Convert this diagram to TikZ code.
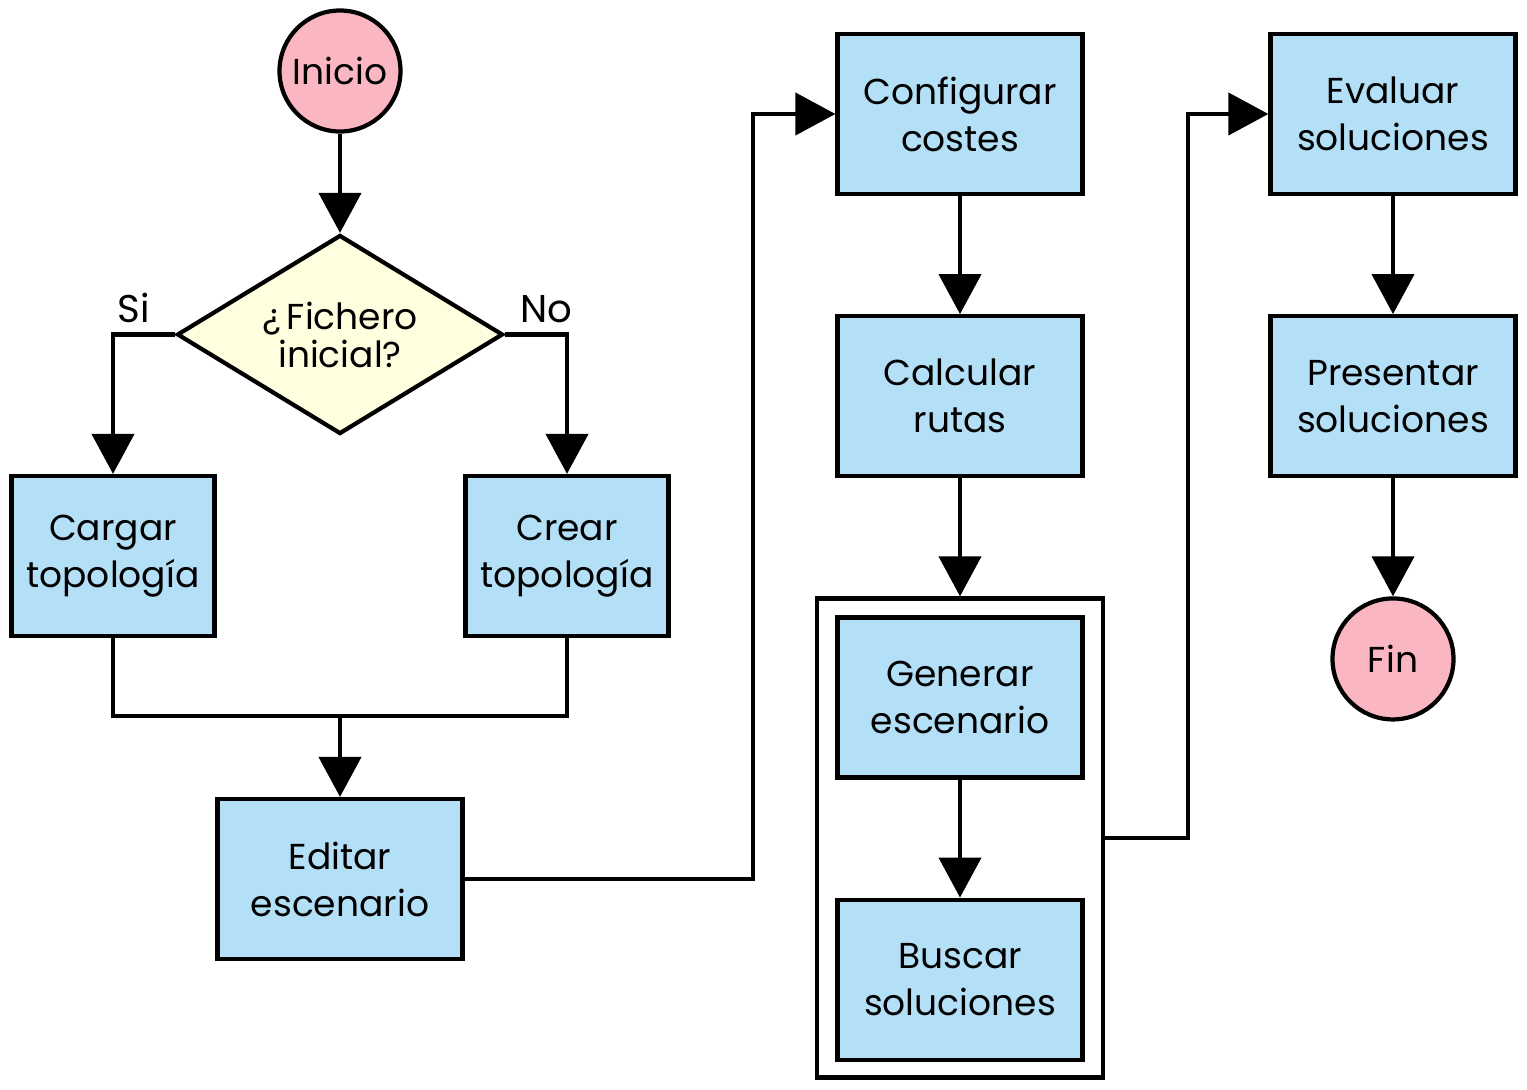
\documentclass[tikz,border=0pt]{standalone}
\usepackage{fontspec}
\setmainfont{Poppins}
\usepackage{tikz}
\usetikzlibrary{shapes.geometric, arrows.meta, positioning, calc}
\usepackage{xcolor}
\definecolor{azul}{RGB}{179,224,247}
\definecolor{rosa}{RGB}{250,182,193}
\definecolor{crema}{RGB}{255,255,224}
\tikzstyle{proceso} = [rectangle, minimum width=4.9cm, minimum height=3.2cm, align=center, draw=black, fill=azul, line width=2.4pt, font=\fontsize{20.5}{26.7}\selectfont]
\tikzstyle{terminal} = [circle, minimum size=2.42cm, inner sep=0pt, draw=black, fill=rosa, line width=2.4pt, font=\fontsize{20.5}{26.7}\selectfont]
\tikzstyle{decision} = [diamond, aspect=1.65, inner sep=0pt, minimum width=6.52cm, minimum height=3.98cm, align=center, draw=black, fill=crema, line width=2.4pt, font=\fontsize{20.5}{21.6}\selectfont]
\tikzstyle{etiqueta} = [above=2pt, font=\fontsize{22}{24}\selectfont]
\tikzstyle{linea} = [line width=2.4pt]
\tikzstyle{flecha} = [line width=2.4pt, -{Triangle[length=0.8cm, width=0.84cm]}]

\begin{document}
\begin{tikzpicture}[node distance=2.36cm]
    \useasboundingbox (0,0) rectangle (30.54,-21.8);

    % columna izquierda
    \node (ini) [terminal] at (6.8,-1.42) {Inicio};
    \node (dec) [decision] at (6.8,-6.69) {¿\,Fichero\\inicial?};
    \node (car) [proceso, minimum width=4.06cm] at (2.26,-11.12) {Cargar\\topología};
    \node (cre) [proceso, minimum width=4.06cm] at (11.34,-11.12) {Crear\\topología};
    \node (edi) [proceso] at (6.8,-17.58) {Editar\\escenario};
    \coordinate (junta) at (6.8,-14.32);

    % columna central
    \node (con) [proceso] at (19.2,-2.28) {Configurar\\costes};
    \node (cal) [proceso, below=of con] {Calcular\\rutas};
    \node (grp) [rectangle, draw=black, line width=2.4pt, minimum width=5.72cm, minimum height=9.58cm, below=of cal] {};
    \node (gen) [proceso, below=0.38cm of grp.north] {Generar\\escenario};
    \node (bus) [proceso, below=of gen] {Buscar\\soluciones};

    % columna derecha
    \node (eva) [proceso] at (27.86,-2.28) {Evaluar\\soluciones};
    \node (pre) [proceso, below=of eva] {Presentar\\soluciones};
    \node (fin) [terminal, below=of pre] {Fin};

    \foreach \i/\j in {ini/dec, con/cal, cal/grp, gen/bus, eva/pre, pre/fin} {
        \draw [flecha] (\i.south) -- (\j.north);
    }

    \draw [flecha] (dec.west) -- node[pos=0.66, etiqueta] {Si} ($(dec.west -| car.north)$) -- (car.north);
    \draw [flecha] (dec.east) -- node[pos=0.66, etiqueta] {No} ($(dec.east -| cre.north)$) -- (cre.north);
    \draw [linea] (car.south) |- (junta) -| (cre.south);
    \draw [flecha] (junta) -- (edi.north);
    \draw [flecha] (edi.east) -- ++(5.76,0) |- (con.west);
    \draw [flecha] (grp.east) -- ++(1.66,0) |- (eva.west);
\end{tikzpicture}
\end{document}
